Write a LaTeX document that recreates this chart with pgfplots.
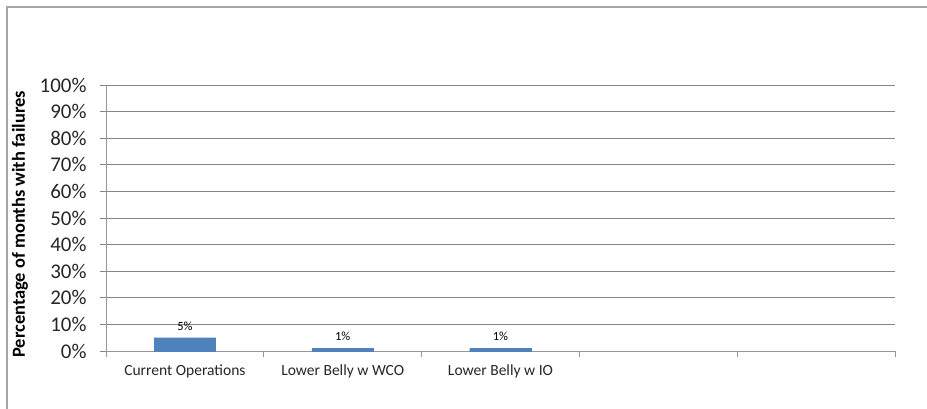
\documentclass[border=0pt]{standalone}
\usepackage{fontspec}
\setmainfont{Carlito}
\usepackage{pgfplots}
\pgfplotsset{compat=1.18}

\definecolor{barblue}{RGB}{79,129,189}
\definecolor{gridgray}{RGB}{134,134,134}
\definecolor{axisgray}{RGB}{150,150,150}
\definecolor{framegray}{RGB}{165,165,165}

\begin{document}
\begin{tikzpicture}
\path[use as bounding box] (0,0) rectangle (927bp,-409bp);
% chart frame (continues past the right and bottom edges)
\draw[framegray, line width=1.3bp] (7bp,-412bp) -- (7bp,-7bp) -- (930bp,-7bp);
\begin{axis}[
  at={(106bp,-351bp)}, anchor=south west,
  scale only axis,
  width=789bp, height=266bp,
  xmin=-0.5, xmax=4.5,
  ymin=0, ymax=100,
  axis x line=bottom, axis y line=left,
  axis line style={-, axisgray, line width=0.8bp},
  ybar, bar width=0.39,
  xtick={0,1,2,3,4},
  xticklabels={Current Operations, Lower Belly w WCO, Lower Belly w IO, {}, {}},
  major x tick style={draw=none},
  minor xtick={-0.5,0.5,1.5,2.5,3.5,4.5},
  minor x tick style={axisgray, line width=0.8bp},
  ytick={0,10,...,100},
  yticklabel={\pgfmathprintnumber{\tick}\%},
  y tick style={gridgray, line width=0.8bp},
  tick align=outside,
  major tick length=6bp, minor tick length=6bp,
  ymajorgrids,
  grid style={gridgray, line width=0.8bp},
  /pgf/number format/assume math mode=true,
  yticklabel style={font=\fontsize{21}{21}\selectfont, text=black!85, xshift=-10bp},
  xticklabel style={font=\fontsize{15.6}{15.6}\selectfont, text=black!85, yshift=-4bp},
  ylabel={Percentage of months with failures},
  ylabel style={font=\fontsize{18.5}{18.5}\selectfont\bfseries, at={(axis description cs:-0.109,0.476)}, anchor=center, rotate=0},
  nodes near coords={\pgfmathprintnumber{\pgfplotspointmeta}\%},
  nodes near coords style={font=\fontsize{12.5}{12.5}\selectfont, text=black, yshift=4bp, /pgf/number format/assume math mode=true},
]
\addplot[fill=barblue, draw=barblue] coordinates {(0,5) (1,1) (2,1)};
\end{axis}
\end{tikzpicture}
\end{document}
